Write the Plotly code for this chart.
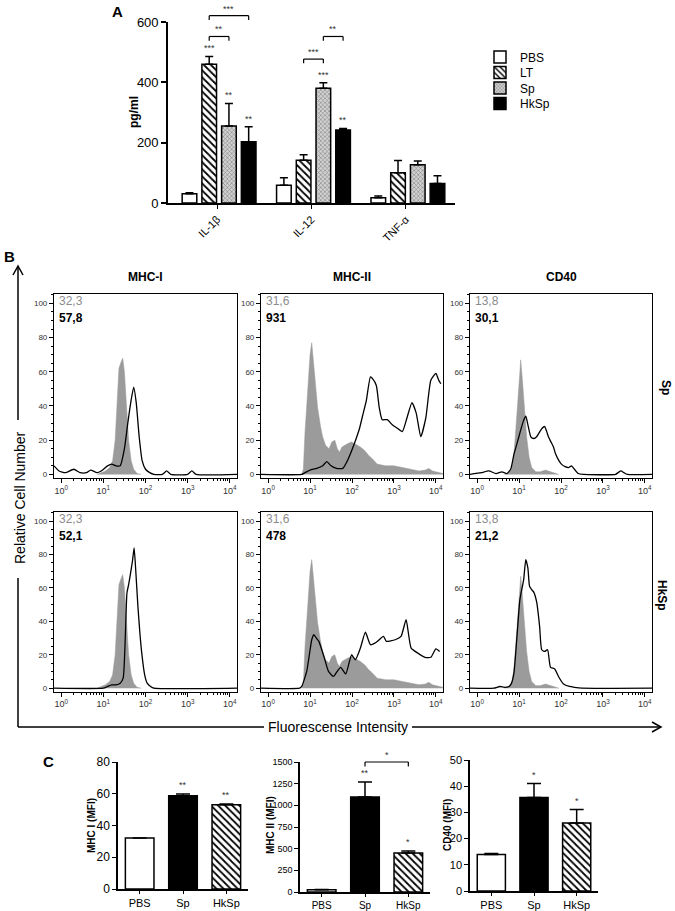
import plotly.graph_objects as go

W, H = 675, 911

# ---------------- Panel A data ----------------
cytokines = ["IL-1β", "IL-12", "TNF-α"]
a_groups = ["PBS", "LT", "Sp", "HkSp"]
a_pbs = [31, 59, 17]
a_pbs_err = [3, 25, 6]
a_lt = [460, 142, 100]
a_lt_err = [26, 18, 41]
a_sp = [255, 380, 127]
a_sp_err = [75, 19, 12]
a_hksp = [203, 242, 65]
a_hksp_err = [50, 5, 25]
a_stars_lt = ["***", "", ""]
a_stars_sp = ["**", "***", ""]
a_stars_hksp = ["**", "**", ""]
# (category index, from group, to group, bracket height pg/ml, label)
a_brackets = [(0, "LT", "Sp", 552, "**"), (0, "LT", "HkSp", 621, "***"),
              (1, "LT", "Sp", 477, "***"), (1, "Sp", "HkSp", 552, "**")]

# ---------------- Panel B data (log10 intensity, relative count) ----------------
hist_cols = ["MHC-I", "MHC-II", "CD40"]
hist_rows = ["Sp", "HkSp"]
iso_mfi = ["32,3", "31,6", "13,8"]
sp_mfi = ["57,8", "931", "30,1"]
hksp_mfi = ["52,1", "478", "21,2"]

mhc1_iso_log = [0.85, 0.95, 1.05, 1.15, 1.22, 1.28, 1.33, 1.37, 1.41, 1.46, 1.50, 1.55, 1.60, 1.66, 1.72, 1.80, 1.90]
mhc1_iso_cnt = [0, 1, 2, 4, 8, 20, 42, 62, 65, 68, 60, 40, 20, 8, 3, 0.5, 0]
mhc1_sp_log = [-0.17, -0.05, 0.1, 0.3, 0.45, 0.6, 0.7, 0.85, 0.95, 1.1, 1.2, 1.3, 1.4, 1.5, 1.58, 1.65, 1.72,
               1.78, 1.85, 1.92, 2.0, 2.1, 2.2, 2.4, 2.5, 2.6, 3.0, 3.1, 3.2, 4.17]
mhc1_sp_cnt = [5, 2, 1, 3, 1, 1, 2.5, 1, 2, 5, 6, 5, 5, 15, 30, 42, 51, 42, 22, 8, 3, 1, 0, 0, 2, 0, 0, 2, 0, 0]
mhc1_hk_log = [-0.17, 1.0, 1.1, 1.2, 1.3, 1.4, 1.47, 1.52, 1.56, 1.6, 1.64, 1.69, 1.73, 1.77, 1.82, 1.87,
               1.92, 1.98, 2.04, 2.12, 2.2, 4.17]
mhc1_hk_cnt = [0, 0, 1, 2, 2, 3, 6, 30, 57, 62, 68, 76, 84, 70, 49, 32, 19, 8, 3, 1, 0, 0]

mhc2_iso_log = [0.80, 0.84, 0.88, 0.95, 1.0, 1.04, 1.1, 1.18, 1.25, 1.30, 1.37, 1.45, 1.52, 1.59, 1.65, 1.70,
                1.76, 1.82, 1.90, 1.99, 2.06, 2.13, 2.20, 2.30, 2.40, 2.49, 2.60, 2.80, 3.00, 3.20, 3.40,
                3.60, 3.75, 3.83, 3.92, 4.05, 4.17]
mhc2_iso_cnt = [0, 3, 25, 55, 70, 77, 62, 39, 28, 22, 17, 15, 19, 20, 15, 13, 16, 17, 18, 19, 18, 17, 16, 14,
                11, 9, 6, 5, 5, 4, 3, 2, 2.5, 3.5, 2, 1, 0.5]
mhc2_sp_log = [-0.17, 0.8, 0.88, 1.0, 1.16, 1.3, 1.40, 1.5, 1.63, 1.78, 1.89, 2.01, 2.1, 2.18, 2.26, 2.34,
               2.44, 2.49, 2.58, 2.65, 2.72, 2.84, 2.96, 3.08, 3.2, 3.31, 3.43, 3.53, 3.64, 3.76, 3.88, 4.0,
               4.07, 4.12]
mhc2_sp_cnt = [0, 0, 1, 2.5, 3.5, 5, 7.5, 5, 3.5, 3.5, 8, 15, 21, 27, 35, 43, 57, 56, 52, 39, 32, 32, 29, 27,
               25, 33, 42, 36, 22, 33, 55, 59, 55, 53]
mhc2_hk_log = [-0.17, 0.75, 0.8, 0.92, 1.04, 1.09, 1.15, 1.21, 1.33, 1.44, 1.56, 1.63, 1.73, 1.85, 1.99,
               2.08, 2.20, 2.32, 2.44, 2.58, 2.75, 2.82, 3.03, 3.17, 3.29, 3.41, 3.57, 3.74, 3.88, 4.0, 4.09]
mhc2_hk_cnt = [0, 0, 1, 10, 29, 32, 30, 28, 19, 10, 7, 9.5, 12.5, 8.5, 20, 17, 24, 33.5, 26, 27.5, 31, 28,
               29, 31, 41, 24, 21, 18.5, 18.5, 23.5, 22]

cd40_iso_log = [0.65, 0.75, 0.82, 0.87, 0.91, 0.96, 1.0, 1.04, 1.08, 1.13, 1.18, 1.24, 1.30, 1.40, 1.50,
                1.63, 1.75, 1.85, 1.95]
cd40_iso_cnt = [0, 1, 3, 10, 22, 42, 58, 67, 55, 38, 22, 10, 4, 1.5, 1.5, 2.5, 1.5, 0.5, 0]
cd40_sp_log = [-0.17, 0.1, 0.28, 0.45, 0.59, 0.71, 0.8, 0.88, 0.95, 1.04, 1.1, 1.16, 1.22, 1.28, 1.35, 1.42,
               1.47, 1.55, 1.61, 1.66, 1.70, 1.76, 1.82, 1.87, 1.95, 2.01, 2.1, 2.18, 2.25, 2.32, 2.41, 2.53,
               3.3, 3.36, 3.43, 3.5, 3.58, 4.17]
cd40_sp_cnt = [0, 1, 2, 0.5, 1.5, 0.5, 3, 12, 18, 26, 31, 34, 28, 22, 21, 22, 24, 27, 28, 25, 22, 19, 16, 12,
               8, 6, 4.5, 4, 5, 3, 0.5, 0, 0, 1, 2, 1, 0, 0]
cd40_hk_log = [-0.17, 0.4, 0.54, 0.65, 0.76, 0.82, 0.88, 0.95, 1.02, 1.11, 1.16, 1.21, 1.25, 1.30, 1.35,
               1.42, 1.49, 1.54, 1.61, 1.68, 1.75, 1.85, 1.94, 2.06, 2.2, 2.32, 2.5, 4.17]
cd40_hk_cnt = [0, 0, 1, 0.5, 1, 3, 9.5, 31, 53, 65, 77, 72, 61, 59, 57.5, 51.5, 37, 23, 22, 23, 12.5, 11.5,
               7, 2.5, 1, 0.5, 0, 0]

# ---------------- Panel C data ----------------
c_groups = ["PBS", "Sp", "HkSp"]
c_mhc1 = [32.2, 58.8, 53.0]
c_mhc1_err = [0, 1.0, 0.6]
c_mhc2 = [27, 1096, 450]
c_mhc2_err = [3, 173, 23]
c_cd40 = [13.9, 35.7, 26.0]
c_cd40_err = [0.4, 5.3, 5.1]
c_stars_mhc1 = ["", "**", "**"]
c_stars_mhc2 = ["", "**", "*"]
c_stars_cd40 = ["", "*", "*"]


# ---------------- helpers ----------------
def xdom(a, b):
    return [a / W, b / W]


def ydom(top, bottom):
    return [1 - bottom / H, 1 - top / H]


def px(x):
    return x / W


def py(y):
    return 1 - y / H


FONT = "Arial, Liberation Sans, sans-serif"
annotations = []
shapes = []


def ann(text, x, y, size=12, color="black", bold=False, angle=0, xanchor="center", yanchor="middle",
        xref="paper", yref="paper", yshift=0):
    annotations.append(dict(text=("<b>%s</b>" % text) if bold else text, x=x, y=y, xref=xref, yref=yref,
                            showarrow=False, font=dict(size=size, color=color, family=FONT),
                            textangle=angle, xanchor=xanchor, yanchor=yanchor, yshift=yshift))


def line(x0, y0, x1, y1, xref="paper", yref="paper", width=1.5):
    shapes.append(dict(type="line", x0=x0, y0=y0, x1=x1, y1=y1, xref=xref, yref=yref,
                       line=dict(color="black", width=width)))


hatch = dict(shape="\\", fgcolor="black", bgcolor="white", size=5, solidity=0.35)
stipple = dict(shape="x", fgcolor="#7f7f7f", bgcolor="#d2d2d2", size=3, solidity=0.35)

fig = go.Figure()

# ---------------- Panel A ----------------
a_vals = {"PBS": (a_pbs, a_pbs_err), "LT": (a_lt, a_lt_err), "Sp": (a_sp, a_sp_err), "HkSp": (a_hksp, a_hksp_err)}
a_style = {
    "PBS": dict(color="white"),
    "LT": dict(color="white", pattern=hatch),
    "Sp": dict(color="#cfcfcf", pattern=stipple),
    "HkSp": dict(color="black"),
}
a_stars = {"LT": a_stars_lt, "Sp": a_stars_sp, "HkSp": a_stars_hksp}
offsets = [-0.37, -0.161, 0.048, 0.257]
bw = 0.155
cat_x = list(range(len(cytokines)))
legend_ids = ["legend", "legend2", "legend3", "legend4"]
legend_y = [57, 72.5, 88, 103.5]
for gi, g in enumerate(a_groups):
    vals, errs = a_vals[g]
    fig.add_trace(go.Bar(
        x=cat_x, y=vals, name=g, offset=offsets[gi], width=bw,
        marker=dict(line=dict(color="black", width=1.5), **a_style[g]),
        error_y=dict(type="data", array=errs, arrayminus=[0] * len(errs), symmetric=False,
                     color="black", thickness=1.5, width=4),
        xaxis="x", yaxis="y", showlegend=True, legend=legend_ids[gi]))
    if g in a_stars:
        for ci, s in enumerate(a_stars[g]):
            if s:
                ann(s, ci + offsets[gi] + bw / 2, (vals[ci] + errs[ci]) / 600, size=9, color="#333",
                    xref="x", yref="y domain", yanchor="bottom", yshift=1)
for ci, g1, g2, h, lbl in a_brackets:
    x1 = ci + offsets[a_groups.index(g1)] + bw / 2
    x2 = ci + offsets[a_groups.index(g2)] + bw / 2
    top, low = h / 600, (h - 14) / 600
    line(x1, top, x2, top, xref="x", yref="y domain", width=1.2)
    line(x1, low, x1, top, xref="x", yref="y domain", width=1.2)
    line(x2, low, x2, top, xref="x", yref="y domain", width=1.2)
    ann(lbl, (x1 + x2) / 2, top, size=9, color="#333", xref="x", yref="y domain", yanchor="bottom", yshift=0)

# ---------------- Panel B ----------------
iso_data = [(mhc1_iso_log, mhc1_iso_cnt), (mhc2_iso_log, mhc2_iso_cnt), (cd40_iso_log, cd40_iso_cnt)]
stim_data = [[(mhc1_sp_log, mhc1_sp_cnt), (mhc2_sp_log, mhc2_sp_cnt), (cd40_sp_log, cd40_sp_cnt)],
             [(mhc1_hk_log, mhc1_hk_cnt), (mhc2_hk_log, mhc2_hk_cnt), (cd40_hk_log, cd40_hk_cnt)]]
stim_mfi = [sp_mfi, hksp_mfi]
col_px = [(54, 237), (261, 443), (470, 652)]
row_px = [(294, 477.8), (512, 691.5)]
minor_vals = [m * 10 ** d for d in range(0, 4) for m in range(2, 10)]
layout_axes = {}
k = 2
for r in range(2):
    for c in range(3):
        xa, ya = "x%d" % k, "y%d" % k
        lg, cn = iso_data[c]
        fig.add_trace(go.Scatter(x=[10 ** v for v in lg], y=cn, mode="lines", fill="tozeroy",
                                 fillcolor="#9b9b9b", line=dict(color="#9b9b9b", width=0.5),
                                 xaxis=xa, yaxis=ya, showlegend=False, hoverinfo="skip"))
        lg, cn = stim_data[r][c]
        fig.add_trace(go.Scatter(x=[10 ** v for v in lg], y=cn, mode="lines",
                                 line=dict(color="black", width=1.3, shape="spline", smoothing=0.5),
                                 xaxis=xa, yaxis=ya, showlegend=False, hoverinfo="skip"))
        layout_axes["xaxis%d" % k] = dict(
            type="log", range=[-0.17, 4.17], domain=xdom(*col_px[c]), anchor=ya,
            showline=True, linecolor="black", linewidth=1.2, mirror=True, showgrid=False, zeroline=False,
            ticks="outside", ticklen=4, tickcolor="black", tickvals=[1, 10, 100, 1000, 10000],
            ticktext=["10<sup>%d</sup>" % d for d in range(5)], tickfont=dict(size=9, color="#333"),
            minor=dict(tickvals=minor_vals, ticks="outside", ticklen=2, tickcolor="black"))
        layout_axes["yaxis%d" % k] = dict(
            range=[-2, 105.5], domain=ydom(*row_px[r]), anchor=xa,
            showline=True, linecolor="black", linewidth=1.2, mirror=True, showgrid=False, zeroline=False,
            ticks="outside", ticklen=4, tickcolor="black", tickvals=[0, 20, 40, 60, 80, 100],
            tickfont=dict(size=8, color="#333"),
            minor=dict(dtick=5, ticks="outside", ticklen=2, tickcolor="black"))
        left, top = col_px[c][0], row_px[r][0]
        ann(iso_mfi[c], px(left + 3), py(top + 7), size=12, color="#8c8c8c", xanchor="left")
        ann(stim_mfi[r][c], px(left + 3), py(top + 24), size=12, bold=True, xanchor="left")
        k += 1

for c in range(3):
    ann(hist_cols[c], px(sum(col_px[c]) / 2), py(277), size=12, bold=True)
ann(hist_rows[0], px(666), py(387), size=12, bold=True, angle=90)
ann(hist_rows[1], px(662), py(595), size=12, bold=True, angle=90)

# L-shaped axis arrows
line(px(18), py(727), px(18), py(578))
line(px(18), py(420), px(18), py(267))
shapes.append(dict(type="path", xref="paper", yref="paper",
                   path="M %f,%f L %f,%f L %f,%f" % (px(13), py(275), px(18), py(266), px(23), py(275)),
                   line=dict(color="black", width=1.5)))
ann("Relative Cell Number", px(20), py(498), size=14, angle=-90)
line(px(18), py(727), px(264), py(727))
line(px(412), py(727), px(660), py(727))
shapes.append(dict(type="path", xref="paper", yref="paper",
                   path="M %f,%f L %f,%f L %f,%f" % (px(652), py(722), px(661), py(727), px(652), py(732)),
                   line=dict(color="black", width=1.5)))
ann("Fluorescense Intensity", px(338), py(727), size=14)

# ---------------- Panel C ----------------
c_sets = [
    (c_mhc1, c_mhc1_err, c_stars_mhc1, "MHC I (MFI)", 80, [0, 20, 40, 60, 80], (118, 248), (762, 889), 12, 11, 91),
    (c_mhc2, c_mhc2_err, c_stars_mhc2, "MHC II (MFI)", 1500, [0, 250, 500, 750, 1000, 1250, 1500], (300, 430),
     (762, 892), 9, 10, 270),
    (c_cd40, c_cd40_err, c_stars_cd40, "CD40 (MFI)", 50, [0, 10, 20, 30, 40, 50], (470, 598), (760, 891), 11, 11, 447),
]
c_style = [dict(color="white"), dict(color="black"), dict(color="white", pattern=hatch)]
for i, (vals, errs, stars, title, ymax, tv, xd, yd, tfs, xfs, title_x) in enumerate(c_sets):
    k = 8 + i
    xa, ya = "x%d" % k, "y%d" % k
    for j in range(3):
        fig.add_trace(go.Bar(
            x=[j], y=[vals[j]], width=0.66,
            marker=dict(line=dict(color="black", width=1.5), **c_style[j]),
            error_y=dict(type="data", array=[errs[j]], arrayminus=[0], symmetric=False,
                         color="black", thickness=1.5, width=7),
            xaxis=xa, yaxis=ya, showlegend=False))
        if stars[j]:
            ann(stars[j], j, (vals[j] + errs[j]) / ymax, size=9, color="#333",
                xref=xa, yref=ya + " domain", yanchor="bottom", yshift=2)
    layout_axes["xaxis%d" % k] = dict(
        range=[-0.5, 2.5], domain=xdom(*xd), anchor=ya, showline=True, linecolor="black", linewidth=1.5,
        showgrid=False, zeroline=False, ticks="outside", ticklen=3, tickcolor="black",
        tickvals=[0, 1, 2], ticktext=c_groups, tickfont=dict(size=xfs, color="black"))
    layout_axes["yaxis%d" % k] = dict(
        range=[0, ymax], domain=ydom(*yd), anchor=xa, showline=True, linecolor="black", linewidth=1.5,
        showgrid=False, zeroline=False, ticks="outside", ticklen=4, tickcolor="black",
        tickvals=tv, tickfont=dict(size=tfs, color="black"))
    ann(title, px(title_x), py(825), size=10, bold=True, angle=-90)

# MHC II bracket
line(1, 1.0, 2, 1.0, xref="x9", yref="y9 domain", width=1.2)
line(1, 0.965, 1, 1.0, xref="x9", yref="y9 domain", width=1.2)
line(2, 0.965, 2, 1.0, xref="x9", yref="y9 domain", width=1.2)
ann("*", 1.5, 1.0, size=9, color="#333", xref="x9", yref="y9 domain", yanchor="bottom")

# Panel letters and A label
ann("A", px(117), py(12), size=15, bold=True)
ann("pg/ml", px(134), py(112), size=12, bold=True, angle=-90)
ann("B", px(9), py(257), size=15, bold=True)
ann("C", px(48), py(761), size=15, bold=True)

legends = {}
for i, lid in enumerate(legend_ids):
    legends[lid] = dict(x=px(480), y=py(legend_y[i]), xanchor="left", yanchor="middle",
                        font=dict(size=12, family=FONT, color="black"), bgcolor="rgba(0,0,0,0)",
                        itemwidth=30, borderwidth=0)

fig.update_layout(
    template="none",
    width=W, height=H, margin=dict(l=0, r=0, t=0, b=0),
    paper_bgcolor="white", plot_bgcolor="rgba(0,0,0,0)",
    font=dict(family=FONT, color="black"),
    barmode="overlay",
    xaxis=dict(domain=xdom(168, 455), range=[-0.52, 2.52], anchor="y", showline=True, linecolor="black",
               linewidth=1.6, showgrid=False, zeroline=False, tickvals=cat_x, ticktext=cytokines,
               tickangle=-45, ticks="outside", ticklen=4, tickcolor="black",
               tickfont=dict(size=11, color="black")),
    yaxis=dict(domain=ydom(22, 203), range=[0, 600], anchor="x", showline=True, linecolor="black",
               linewidth=1.6, showgrid=False, zeroline=False, tickvals=[0, 200, 400, 600], ticks="outside",
               ticklen=5, tickcolor="black", tickwidth=1.5, tickfont=dict(size=13, color="black")),
    annotations=annotations, shapes=shapes,
    **legends,
    **layout_axes,
)

# the page's default body margin would push the 675x911 figure 8px right and down
fig.write_html("out.html", config={"displayModeBar": False},
               post_script="document.body.style.margin='0';document.body.style.overflow='hidden';")
